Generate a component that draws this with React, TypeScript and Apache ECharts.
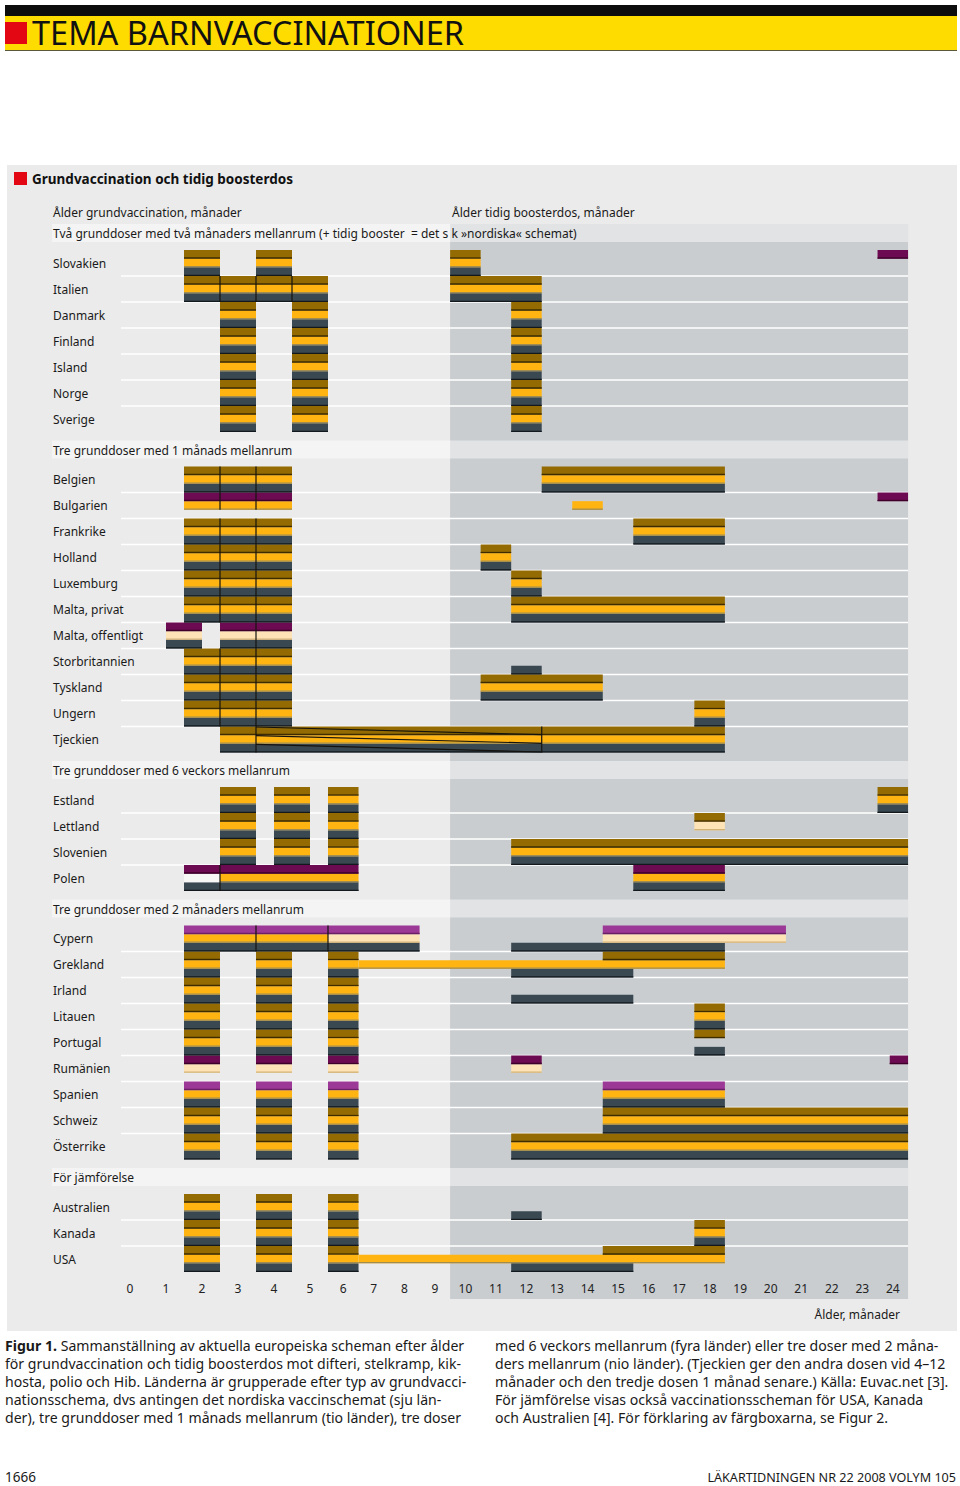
import React, { useEffect, useRef } from "react";
import * as echarts from "echarts";

// ---------- data ----------
const MONTHS = [0, 1, 2, 3, 4, 5, 6, 7, 8, 9, 10, 11, 12, 13, 14, 15, 16, 17, 18, 19, 20, 21, 22, 23, 24];
const TICK_LABELS = MONTHS.map((m) => String(m));

// segment: [start edge (months), end edge (months), stripe pattern top/mid/bottom ('/' = range diagonals)]
type Seg = [number, number, string];

const GROUP_TITLES = [
  "Två grunddoser med två månaders mellanrum (+ tidig booster  = det s k »nordiska« schemat)",
  "Tre grunddoser med 1 månads mellanrum",
  "Tre grunddoser med 6 veckors mellanrum",
  "Tre grunddoser med 2 månaders mellanrum",
  "För jämförelse",
];

const G1_NAMES = ["Slovakien", "Italien", "Danmark", "Finland", "Island", "Norge", "Sverige"];
const G1_SEGS: Seg[][] = [
  [[1.5, 2.5, "BYS"], [3.5, 4.5, "BYS"], [9.5, 10.5, "BYS"], [23.5, 24.5, "P--"]],
  [[1.5, 2.5, "BYS"], [2.5, 3.5, "BYS"], [3.5, 4.5, "BYS"], [4.5, 5.5, "BYS"], [9.5, 12.5, "BYS"]],
  [[2.5, 3.5, "BYS"], [4.5, 5.5, "BYS"], [11.5, 12.5, "BYS"]],
  [[2.5, 3.5, "BYS"], [4.5, 5.5, "BYS"], [11.5, 12.5, "BYS"]],
  [[2.5, 3.5, "BYS"], [4.5, 5.5, "BYS"], [11.5, 12.5, "BYS"]],
  [[2.5, 3.5, "BYS"], [4.5, 5.5, "BYS"], [11.5, 12.5, "BYS"]],
  [[2.5, 3.5, "BYS"], [4.5, 5.5, "BYS"], [11.5, 12.5, "BYS"]],
];

const G2_NAMES = ["Belgien", "Bulgarien", "Frankrike", "Holland", "Luxemburg", "Malta, privat", "Malta, offentligt", "Storbritannien", "Tyskland", "Ungern", "Tjeckien"];
const G2_SEGS: Seg[][] = [
  [[1.5, 2.5, "BYS"], [2.5, 3.5, "BYS"], [3.5, 4.5, "BYS"], [12.5, 18.5, "BYS"]],
  [[1.5, 2.5, "PY-"], [2.5, 3.5, "PY-"], [3.5, 4.5, "PY-"], [13.5, 14.5, "-Y-"], [23.5, 24.5, "P--"]],
  [[1.5, 2.5, "BYS"], [2.5, 3.5, "BYS"], [3.5, 4.5, "BYS"], [15.5, 18.5, "BYS"]],
  [[1.5, 2.5, "BYS"], [2.5, 3.5, "BYS"], [3.5, 4.5, "BYS"], [10.5, 11.5, "BYS"]],
  [[1.5, 2.5, "BYS"], [2.5, 3.5, "BYS"], [3.5, 4.5, "BYS"], [11.5, 12.5, "BYS"]],
  [[1.5, 2.5, "BYS"], [2.5, 3.5, "BYS"], [3.5, 4.5, "BYS"], [11.5, 18.5, "BYS"]],
  [[1, 2, "PCS"], [2.5, 3.5, "PCS"], [3.5, 4.5, "PCS"]],
  [[1.5, 2.5, "BYS"], [2.5, 3.5, "BYS"], [3.5, 4.5, "BYS"], [11.5, 12.5, "--S"]],
  [[1.5, 2.5, "BYS"], [2.5, 3.5, "BYS"], [3.5, 4.5, "BYS"], [10.5, 14.5, "BYS"]],
  [[1.5, 2.5, "BYS"], [2.5, 3.5, "BYS"], [3.5, 4.5, "BYS"], [17.5, 18.5, "BYS"]],
  [[2.5, 3.5, "BYS"], [3.5, 12.5, "BYS/"], [12.5, 18.5, "BYS"]],
];

const G3_NAMES = ["Estland", "Lettland", "Slovenien", "Polen"];
const G3_SEGS: Seg[][] = [
  [[2.5, 3.5, "BYS"], [4, 5, "BYS"], [5.5, 6.5, "BYS"], [23.5, 24.5, "BYS"]],
  [[2.5, 3.5, "BYS"], [4, 5, "BYS"], [5.5, 6.5, "BYS"], [17.5, 18.5, "BC-"]],
  [[2.5, 3.5, "BYS"], [4, 5, "BYS"], [5.5, 6.5, "BYS"], [11.5, 24.5, "BYS"]],
  [[1.5, 2.5, "PWS"], [2.5, 6.5, "PYS"], [15.5, 18.5, "PYS"]],
];

const G4_NAMES = ["Cypern", "Grekland", "Irland", "Litauen", "Portugal", "Rumänien", "Spanien", "Schweiz", "Österrike"];
const G4_SEGS: Seg[][] = [
  [[1.5, 3.5, "LYS"], [3.5, 5.5, "LYS"], [5.5, 8.5, "LCS"], [11.5, 18.5, "--S"], [14.5, 20.5, "LC-"]],
  [[1.5, 2.5, "BYS"], [3.5, 4.5, "BYS"], [5.5, 6.5, "BYS"], [6.5, 18.5, "-Y-"], [14.5, 18.5, "B--"], [11.5, 15.5, "--S"]],
  [[1.5, 2.5, "BYS"], [3.5, 4.5, "BYS"], [5.5, 6.5, "BYS"], [11.5, 15.5, "--S"]],
  [[1.5, 2.5, "BYS"], [3.5, 4.5, "BYS"], [5.5, 6.5, "BYS"], [17.5, 18.5, "BYS"]],
  [[1.5, 2.5, "BYS"], [3.5, 4.5, "BYS"], [5.5, 6.5, "BYS"], [17.5, 18.5, "B-S"]],
  [[1.5, 2.5, "PC-"], [3.5, 4.5, "PC-"], [5.5, 6.5, "PC-"], [11.5, 12.5, "PC-"], [23.9, 24.5, "P--"]],
  [[1.5, 2.5, "LYS"], [3.5, 4.5, "LYS"], [5.5, 6.5, "LYS"], [14.5, 18.5, "LYS"]],
  [[1.5, 2.5, "BYS"], [3.5, 4.5, "BYS"], [5.5, 6.5, "BYS"], [14.5, 24.5, "BYS"]],
  [[1.5, 2.5, "BYS"], [3.5, 4.5, "BYS"], [5.5, 6.5, "BYS"], [11.5, 24.5, "BYS"]],
];

const G5_NAMES = ["Australien", "Kanada", "USA"];
const G5_SEGS: Seg[][] = [
  [[1.5, 2.5, "BYS"], [3.5, 4.5, "BYS"], [5.5, 6.5, "BYS"], [11.5, 12.5, "--S"]],
  [[1.5, 2.5, "BYS"], [3.5, 4.5, "BYS"], [5.5, 6.5, "BYS"], [17.5, 18.5, "BYS"]],
  [[1.5, 2.5, "BYS"], [3.5, 4.5, "BYS"], [5.5, 6.5, "BYS"], [6.5, 18.5, "-Y-"], [14.5, 18.5, "B--"], [11.5, 15.5, "--S"]],
];

const CAPTION_LEFT = [
  "{b|Figur 1.} Sammanställning av aktuella europeiska scheman efter ålder",
  "för grundvaccination och tidig boosterdos mot difteri, stelkramp, kik-",
  "hosta, polio och Hib. Länderna är grupperade efter typ av grundvacci-",
  "nationsschema, dvs antingen det nordiska vaccinschemat (sju län-",
  "der), tre grunddoser med 1 månads mellanrum (tio länder), tre doser",
];
const CAPTION_RIGHT = [
  "med 6 veckors mellanrum (fyra länder) eller tre doser med 2 måna-",
  "ders mellanrum (nio länder). (Tjeckien ger den andra dosen vid 4–12",
  "månader och den tredje dosen 1 månad senare.) Källa: Euvac.net [3].",
  "För jämförelse visas också vaccinationsscheman för USA, Kanada",
  "och Australien [4]. För förklaring av färgboxarna, se Figur 2.",
];

// ---------- styles ----------
const FILL: Record<string, string> = {
  B: "#936b02", Y: "#ffb412", S: "#3a4852", P: "#6d0b52", L: "#9c3896", C: "#fde3b6", W: "#f7f7f5",
};
const EDGE: Record<string, string> = {
  B: "#3e2c00", Y: "#a08c52", S: "#12181c", P: "#3c0029", L: "#6a1f66", C: "#d2b174", W: "#f7f7f5",
};
const FONT = "Noto Sans";

// broken month scale: wider before 5.5 months
const BREAK = 5.5;
const LEFT_W = 36;
const RIGHT_W = 30.53;
const U = (m: number) => (m <= BREAK ? LEFT_W * m : LEFT_W * BREAK + (m - BREAK) * RIGHT_W);

// vertical layout (units = px)
const HEADER_H = 18;
const GAP_AFTER = 8;
const GAP_BEFORE = 8.5;
const ROW_H = 26;

type Row = { y0: number; y1: number; name: string; segs: Seg[]; first: boolean };
type Header = { y0: number; y1: number; title: string };

function buildLayout() {
  const groups: [string[], Seg[][]][] = [
    [G1_NAMES, G1_SEGS], [G2_NAMES, G2_SEGS], [G3_NAMES, G3_SEGS], [G4_NAMES, G4_SEGS], [G5_NAMES, G5_SEGS],
  ];
  const rows: Row[] = [];
  const headers: Header[] = [];
  let y = 0;
  groups.forEach(([names, segs], gi) => {
    if (gi > 0) y += GAP_BEFORE;
    headers.push({ y0: y, y1: y + HEADER_H, title: GROUP_TITLES[gi] });
    y += HEADER_H + GAP_AFTER;
    names.forEach((n, ri) => {
      rows.push({ y0: y, y1: y + ROW_H, name: n, segs: segs[ri], first: ri === 0 });
      y += ROW_H;
    });
  });
  return { rows, headers, total: y };
}

const LAYOUT = buildLayout();

type El =
  | { kind: "band" }
  | { kind: "header"; y0: number; y1: number; title: string }
  | { kind: "sep"; y: number }
  | { kind: "stripe"; x0: number; x1: number; y0: number; y1: number; c: string }
  | { kind: "div"; x: number; y0: number; y1: number }
  | { kind: "diag"; x0: number; x1: number; ya: number; yb: number };

function buildElements(): El[] {
  const els: El[] = [{ kind: "band" }];
  LAYOUT.headers.forEach((h) => els.push({ kind: "header", y0: h.y0, y1: h.y1, title: h.title }));
  LAYOUT.rows.forEach((r) => {
    if (!r.first) els.push({ kind: "sep", y: r.y0 });
  });
  const sh = ROW_H / 3;
  LAYOUT.rows.forEach((r) => {
    r.segs.forEach(([a, b, p]) => {
      for (let k = 0; k < 3; k++) {
        const c = p[k];
        if (c && c !== "-") els.push({ kind: "stripe", x0: a, x1: b, y0: r.y0 + k * sh, y1: r.y0 + (k + 1) * sh, c });
      }
      if (p.includes("/")) {
        for (let k = 0; k < 3; k++) els.push({ kind: "diag", x0: a, x1: b, ya: r.y0 + k * sh, yb: r.y0 + (k + 1) * sh });
      }
    });
    // dividers between abutting doses
    r.segs.forEach((s1) => {
      r.segs.forEach((s2) => {
        if (Math.abs(s1[1] - s2[0]) < 1e-6 && s1[2][0] !== "-" && s2[2][0] !== "-") {
          let last = 0;
          for (let k = 0; k < 3; k++) if (s1[2][k] !== "-" || s2[2][k] !== "-") last = k;
          els.push({ kind: "div", x: s1[1], y0: r.y0, y1: r.y0 + (last + 1) * sh });
        }
      });
    });
  });
  return els;
}

const ELEMENTS = buildElements();

const Y_LABELS: { v: number; t: string }[] = LAYOUT.rows.map((r) => ({ v: (r.y0 + r.y1) / 2, t: r.name }));

export default function App() {
  const ref = useRef<HTMLDivElement>(null);
  useEffect(() => {
    if (!ref.current) return;
    const chart = echarts.init(ref.current, undefined, { renderer: "svg" });
    const GRID_LEFT = 112;
    const GRID_TOP = 224;
    const xMin = U(-0.5);
    const xMax = U(24.5);

    const renderItem = (params: any, api: any) => {
      const el = ELEMENTS[params.dataIndex];
      if (el.kind === "band") {
        const p0 = api.coord([U(9.5), 0]);
        const p1 = api.coord([U(24.5), LAYOUT.total]);
        return { type: "rect", z2: 0, shape: { x: p0[0], y: p0[1], width: p1[0] - p0[0], height: p1[1] - p0[1] + 27 }, style: { fill: "#c9cdd0" } };
      }
      if (el.kind === "header") {
        const p0 = api.coord([xMin, el.y0]);
        const p1 = api.coord([xMax, el.y1]);
        return {
          type: "group",
          children: [
            { type: "rect", z2: 1, shape: { x: p0[0] - 60, y: p0[1], width: p1[0] - p0[0] + 60, height: p1[1] - p0[1] }, style: { fill: "rgba(255,255,255,0.45)" } },
            {
              type: "text", z2: 8, x: p0[0] - 59, y: (p0[1] + p1[1]) / 2 + 0.5,
              style: { text: el.title, fill: "#1a1a1a", fontFamily: FONT, fontSize: 12, verticalAlign: "middle", align: "left" },
            },
          ],
        };
      }
      if (el.kind === "sep") {
        const p0 = api.coord([U(-0.25), el.y]);
        const p1 = api.coord([xMax, el.y]);
        return { type: "line", z2: 2, shape: { x1: p0[0], y1: p0[1], x2: p1[0], y2: p1[1] }, style: { stroke: "#ffffff", lineWidth: 1.6 } };
      }
      if (el.kind === "stripe") {
        const p0 = api.coord([U(el.x0), el.y0]);
        const p1 = api.coord([U(el.x1), el.y1]);
        const w = p1[0] - p0[0];
        const h = p1[1] - p0[1];
        return {
          type: "group",
          children: [
            { type: "rect", z2: 3, shape: { x: p0[0], y: p0[1], width: w, height: h }, style: { fill: FILL[el.c] } },
            { type: "rect", z2: 4, shape: { x: p0[0], y: p1[1] - 1.3, width: w, height: 1.3 }, style: { fill: EDGE[el.c] } },
          ],
        };
      }
      if (el.kind === "div") {
        const p0 = api.coord([U(el.x), el.y0]);
        const p1 = api.coord([U(el.x), el.y1]);
        return { type: "line", z2: 5, shape: { x1: p0[0], y1: p0[1], x2: p1[0], y2: p1[1] }, style: { stroke: "#15130f", lineWidth: 1.2 } };
      }
      const p0 = api.coord([U(el.x0), el.ya]);
      const p1 = api.coord([U(el.x1), el.yb]);
      return { type: "line", z2: 5, shape: { x1: p0[0], y1: p0[1] + 0.5, x2: p1[0], y2: p1[1] - 0.5 }, style: { stroke: "#15130f", lineWidth: 1.2 } };
    };

    const captionLine = (text: string, x: number, y: number) => ({
      type: "text",
      z: 20,
      x,
      y,
      style: {
        text,
        fill: "#1a1a1a",
        fontFamily: FONT,
        fontSize: 14.1,
        verticalAlign: "middle",
        rich: { b: { fontWeight: "bold", fontFamily: FONT, fontSize: 14.1, fill: "#1a1a1a" } },
      },
    });

    chart.setOption({
      animation: false,
      backgroundColor: "#ffffff",
      textStyle: { fontFamily: FONT },
      grid: { left: GRID_LEFT, top: GRID_TOP, width: xMax - xMin, height: LAYOUT.total, containLabel: false },
      xAxis: {
        type: "value",
        z: 30,
        min: xMin,
        max: xMax,
        axisLine: { show: false },
        axisTick: { show: false },
        splitLine: { show: false },
        axisLabel: {
          customValues: MONTHS.map(U),
          margin: 10,
          fontSize: 12,
          color: "#222",
          fontFamily: FONT,
          formatter: (v: number) => {
            const i = MONTHS.findIndex((m) => Math.abs(U(m) - v) < 0.01);
            return i >= 0 ? TICK_LABELS[i] : "";
          },
        },
      },
      yAxis: {
        type: "value",
        z: 30,
        inverse: true,
        min: 0,
        max: LAYOUT.total,
        axisLine: { show: false },
        axisTick: { show: false },
        splitLine: { show: false },
        axisLabel: {
          customValues: Y_LABELS.map((l) => l.v),
          align: "left",
          margin: 59,
          fontSize: 12,
          color: "#1a1a1a",
          fontFamily: FONT,
          formatter: (v: number) => {
            const f = Y_LABELS.find((l) => Math.abs(l.v - v) < 0.01);
            return f ? f.t : "";
          },
        },
      },
      graphic: [
        { type: "rect", z: 0, shape: { x: 7, y: 165, width: 950, height: 1166 }, style: { fill: "#ebebeb" } },
        { type: "rect", z: 20, shape: { x: 5, y: 5, width: 952, height: 11 }, style: { fill: "#0d0d0d" } },
        { type: "rect", z: 20, shape: { x: 5, y: 16, width: 952, height: 34 }, style: { fill: "#ffdc00" } },
        { type: "rect", z: 20, shape: { x: 5, y: 50, width: 952, height: 1 }, style: { fill: "#5a5a3a" } },
        { type: "rect", z: 21, shape: { x: 5, y: 22, width: 22, height: 22 }, style: { fill: "#e30613" } },
        {
          type: "text", z: 21, x: 32, y: 32,
          style: { text: "TEMA BARNVACCINATIONER", fill: "#111", fontFamily: FONT, fontSize: 32.5, verticalAlign: "middle" },
        },
        { type: "rect", z: 21, shape: { x: 14, y: 172, width: 13, height: 13 }, style: { fill: "#e30613" } },
        {
          type: "text", z: 21, x: 32, y: 179,
          style: { text: "Grundvaccination och tidig boosterdos", fill: "#111", fontFamily: FONT, fontSize: 13.5, fontWeight: "bold", verticalAlign: "middle" },
        },
        {
          type: "text", z: 21, x: 53, y: 212,
          style: { text: "Ålder grundvaccination, månader", fill: "#1a1a1a", fontFamily: FONT, fontSize: 12, verticalAlign: "middle" },
        },
        {
          type: "text", z: 21, x: 452, y: 212,
          style: { text: "Ålder tidig boosterdos, månader", fill: "#1a1a1a", fontFamily: FONT, fontSize: 12, verticalAlign: "middle" },
        },
        {
          type: "text", z: 21, x: 900, y: 1314,
          style: { text: "Ålder, månader", fill: "#1a1a1a", fontFamily: FONT, fontSize: 12, align: "right", verticalAlign: "middle" },
        },
        ...CAPTION_LEFT.map((t, i) => captionLine(t, 5, 1345 + i * 18)),
        ...CAPTION_RIGHT.map((t, i) => captionLine(t, 495, 1345 + i * 18)),
        {
          type: "text", z: 21, x: 5, y: 1477,
          style: { text: "1666", fill: "#1a1a1a", fontFamily: FONT, fontSize: 13.5, verticalAlign: "middle" },
        },
        {
          type: "text", z: 21, x: 956, y: 1477,
          style: { text: "LÄKARTIDNINGEN NR 22 2008 VOLYM 105", fill: "#1a1a1a", fontFamily: FONT, fontSize: 12.6, align: "right", verticalAlign: "middle" },
        },
      ],
      series: [
        {
          type: "custom",
          z: 10,
          silent: true,
          clip: false,
          renderItem,
          data: ELEMENTS.map((_, i) => [0, 0, i]),
        },
      ],
    });
    return () => chart.dispose();
  }, []);
  return <div ref={ref} style={{ position: "absolute", left: 0, top: 0, width: 960, height: 1486 }} />;
}
